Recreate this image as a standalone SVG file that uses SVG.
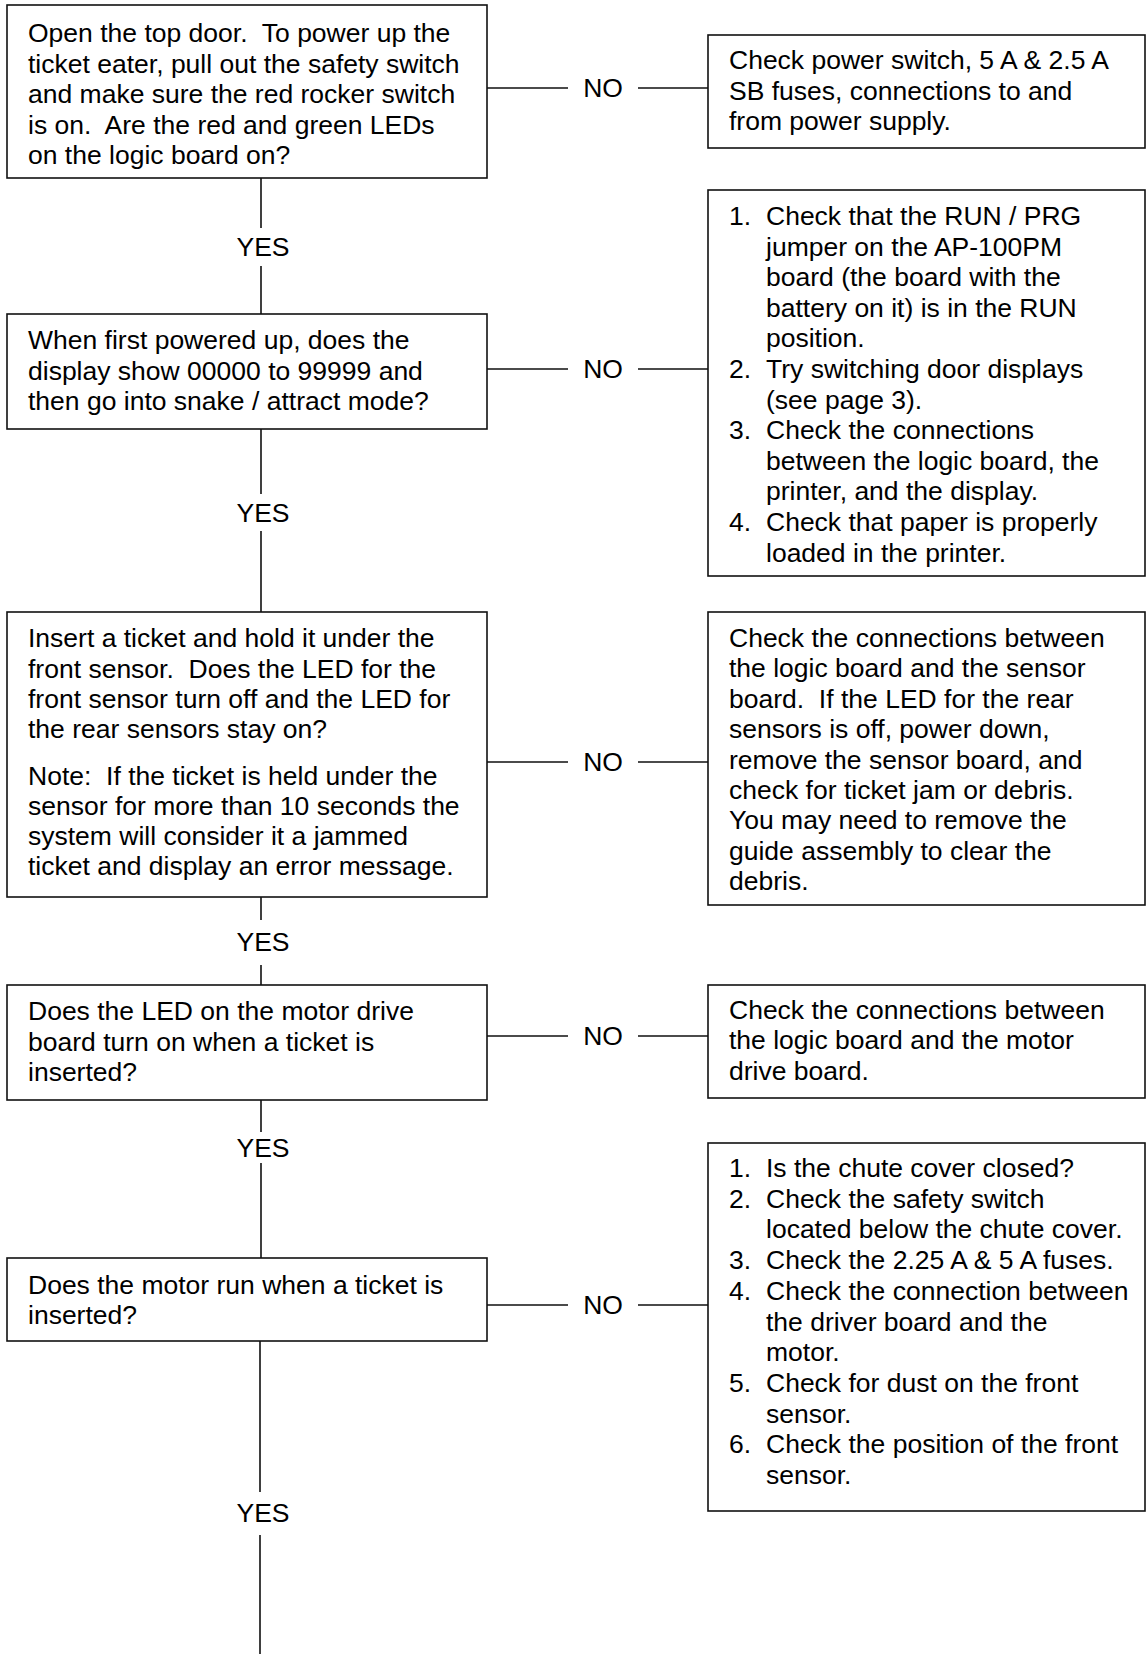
<svg xmlns="http://www.w3.org/2000/svg" width="1146" height="1654" viewBox="0 0 1146 1654">
<style>
.box{fill:#fff;stroke:#111;stroke-width:1.6}
.ln{stroke:#111;stroke-width:1.6;fill:none}
text{font-family:"Liberation Sans",Arial,sans-serif;font-size:26.5px;fill:#000}
.c{text-anchor:middle}
</style>
<rect width="1146" height="1654" fill="#fff"/>
<g id="connectors">
<path class="ln" d="M487 88H568M638 88H708"/>
<text class="c" x="603" y="97">NO</text>
<path class="ln" d="M487 369H568M638 369H708"/>
<text class="c" x="603" y="378">NO</text>
<path class="ln" d="M487 762H568M638 762H708"/>
<text class="c" x="603" y="771">NO</text>
<path class="ln" d="M487 1036H568M638 1036H708"/>
<text class="c" x="603" y="1045">NO</text>
<path class="ln" d="M487 1305H568M638 1305H708"/>
<text class="c" x="603" y="1314">NO</text>
<path class="ln" d="M261 178V228M261 266V314"/>
<text class="c" x="263" y="256">YES</text>
<path class="ln" d="M261 429V494M261 531V612"/>
<text class="c" x="263" y="522">YES</text>
<path class="ln" d="M261 897V920M261 965V985"/>
<text class="c" x="263" y="951">YES</text>
<path class="ln" d="M261 1100V1132M261 1163V1258"/>
<text class="c" x="263" y="1157">YES</text>
<path class="ln" d="M260 1341V1492M260 1535V1654"/>
<text class="c" x="263" y="1522">YES</text>
</g>
<g id="q1">
<rect class="box" x="7" y="5" width="480" height="173"/>
<text x="28" y="42">Open the top door.&#160; To power up the</text>
<text x="28" y="72.5">ticket eater, pull out the safety switch</text>
<text x="28" y="103">and make sure the red rocker switch</text>
<text x="28" y="133.5">is on.&#160; Are the red and green LEDs</text>
<text x="28" y="164">on the logic board on?</text>
</g>
<g id="r1">
<rect class="box" x="708" y="35" width="437" height="113"/>
<text x="729" y="69">Check power switch, 5 A &amp; 2.5 A</text>
<text x="729" y="100">SB fuses, connections to and</text>
<text x="729" y="130">from power supply.</text>
</g>
<g id="q2">
<rect class="box" x="7" y="314" width="480" height="115"/>
<text x="28" y="349">When first powered up, does the</text>
<text x="28" y="380">display show 00000 to 99999 and</text>
<text x="28" y="410">then go into snake / attract mode?</text>
</g>
<g id="r2">
<rect class="box" x="708" y="190" width="437" height="386"/>
<text x="729" y="225">1.</text><text x="766" y="225">Check that the RUN / PRG</text>
<text x="766" y="255.6">jumper on the AP-100PM</text>
<text x="766" y="286.2">board (the board with the</text>
<text x="766" y="316.8">battery on it) is in the RUN</text>
<text x="766" y="347.4">position.</text>
<text x="729" y="378">2.</text><text x="766" y="378">Try switching door displays</text>
<text x="766" y="408.6">(see page 3).</text>
<text x="729" y="439.2">3.</text><text x="766" y="439.2">Check the connections</text>
<text x="766" y="469.8">between the logic board, the</text>
<text x="766" y="500.4">printer, and the display.</text>
<text x="729" y="531">4.</text><text x="766" y="531">Check that paper is properly</text>
<text x="766" y="561.6">loaded in the printer.</text>
</g>
<g id="q3">
<rect class="box" x="7" y="612" width="480" height="285"/>
<text x="28" y="647">Insert a ticket and hold it under the</text>
<text x="28" y="678">front sensor.&#160; Does the LED for the</text>
<text x="28" y="708">front sensor turn off and the LED for</text>
<text x="28" y="738">the rear sensors stay on?</text>
<text x="28" y="785">Note:&#160; If the ticket is held under the</text>
<text x="28" y="815">sensor for more than 10 seconds the</text>
<text x="28" y="845">system will consider it a jammed</text>
<text x="28" y="875">ticket and display an error message.</text>
</g>
<g id="r3">
<rect class="box" x="708" y="612" width="437" height="293"/>
<text x="729" y="647">Check the connections between</text>
<text x="729" y="677.4">the logic board and the sensor</text>
<text x="729" y="707.8">board.&#160; If the LED for the rear</text>
<text x="729" y="738.2">sensors is off, power down,</text>
<text x="729" y="768.6">remove the sensor board, and</text>
<text x="729" y="799">check for ticket jam or debris.</text>
<text x="729" y="829.4">You may need to remove the</text>
<text x="729" y="859.8">guide assembly to clear the</text>
<text x="729" y="890.2">debris.</text>
</g>
<g id="q4">
<rect class="box" x="7" y="985" width="480" height="115"/>
<text x="28" y="1020">Does the LED on the motor drive</text>
<text x="28" y="1051">board turn on when a ticket is</text>
<text x="28" y="1081">inserted?</text>
</g>
<g id="r4">
<rect class="box" x="708" y="985" width="437" height="113"/>
<text x="729" y="1019">Check the connections between</text>
<text x="729" y="1049">the logic board and the motor</text>
<text x="729" y="1080">drive board.</text>
</g>
<g id="q5">
<rect class="box" x="7" y="1258" width="480" height="83"/>
<text x="28" y="1294">Does the motor run when a ticket is</text>
<text x="28" y="1324">inserted?</text>
</g>
<g id="r5">
<rect class="box" x="708" y="1143" width="437" height="368"/>
<text x="729" y="1177">1.</text><text x="766" y="1177">Is the chute cover closed?</text>
<text x="729" y="1207.7">2.</text><text x="766" y="1207.7">Check the safety switch</text>
<text x="766" y="1238.4">located below the chute cover.</text>
<text x="729" y="1269.1">3.</text><text x="766" y="1269.1">Check the 2.25 A &amp; 5 A fuses.</text>
<text x="729" y="1299.8">4.</text><text x="766" y="1299.8">Check the connection between</text>
<text x="766" y="1330.5">the driver board and the</text>
<text x="766" y="1361.2">motor.</text>
<text x="729" y="1391.9">5.</text><text x="766" y="1391.9">Check for dust on the front</text>
<text x="766" y="1422.6">sensor.</text>
<text x="729" y="1453.3">6.</text><text x="766" y="1453.3">Check the position of the front</text>
<text x="766" y="1484">sensor.</text>
</g>
</svg>
